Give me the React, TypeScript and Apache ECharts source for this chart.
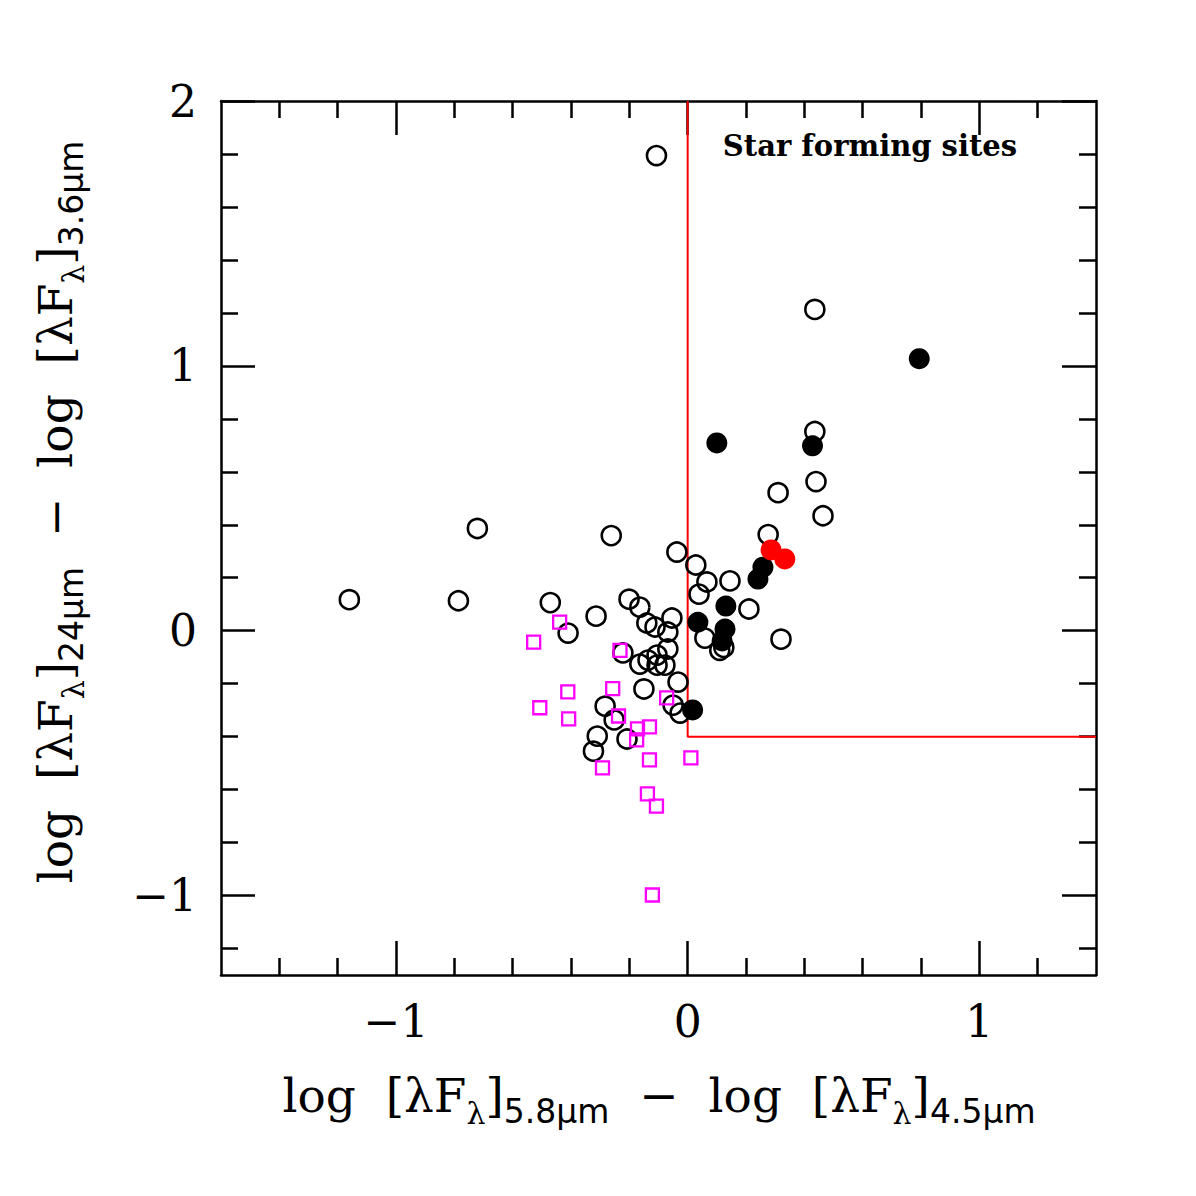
import React, { useEffect, useRef } from 'react';
import * as echarts from 'echarts';

// Tick values
const xMajorTicks = [-1, 0, 1];
const xMinorTicks = [-1.4, -1.2, -0.8, -0.6, -0.4, -0.2, 0.2, 0.4, 0.6, 0.8, 1.2];
const yMajorTicks = [-1, 0, 1, 2];
const yMinorTicks = [-1.2, -0.8, -0.6, -0.4, -0.2, 0.2, 0.4, 0.6, 0.8, 1.2, 1.4, 1.6, 1.8];

// Star-forming region boundary (red)
const boundaryX = [0, 0, 1.4];
const boundaryY = [2, -0.4, -0.4];

// Open black circles
const openCircles: [number, number][] = [
  [-0.107, 1.794], [0.436, 1.213], [0.436, 0.752], [0.44, 0.563], [0.31, 0.521],
  [0.464, 0.434], [0.276, 0.363], [-0.721, 0.386], [-0.262, 0.359], [-1.16, 0.117],
  [-0.786, 0.113], [-0.471, 0.106], [-0.037, 0.297], [0.028, 0.248], [0.066, 0.184],
  [0.145, 0.188], [0.039, 0.138], [0.21, 0.082], [0.059, -0.028], [0.32, -0.032],
  [0.11, -0.074], [0.124, -0.063], [-0.054, 0.048], [-0.068, -0.005], [-0.068, -0.069],
  [-0.201, 0.119], [-0.164, 0.089], [-0.314, 0.055], [-0.41, -0.009], [-0.14, 0.029],
  [-0.112, 0.014], [-0.222, -0.084], [-0.164, -0.126], [-0.136, -0.111], [-0.105, -0.092],
  [-0.105, -0.13], [-0.078, -0.13], [-0.033, -0.194], [-0.15, -0.22], [-0.283, -0.285],
  [-0.05, -0.281], [-0.026, -0.311], [-0.252, -0.337], [-0.31, -0.398], [-0.208, -0.409],
  [-0.323, -0.455],
];

// Filled black circles
const filledCircles: [number, number][] = [
  [0.794, 1.027], [0.1, 0.709], [0.428, 0.698], [0.258, 0.24], [0.241, 0.195],
  [0.131, 0.093], [0.035, 0.032], [0.128, 0.006], [0.118, -0.039], [0.017, -0.299],
];

// Filled red circles
const redCircles: [number, number][] = [
  [0.286, 0.305], [0.333, 0.271],
];

// Magenta open squares
const magentaSquares: [number, number][] = [
  [-0.528, -0.043], [-0.439, 0.032], [-0.232, -0.074], [-0.411, -0.231], [-0.257, -0.219],
  [-0.072, -0.254], [-0.507, -0.291], [-0.408, -0.333], [-0.237, -0.322], [-0.172, -0.371],
  [-0.131, -0.363], [-0.175, -0.412], [0.011, -0.48], [-0.131, -0.488], [-0.292, -0.518],
  [-0.138, -0.616], [-0.107, -0.662], [-0.121, -0.998],
];

const SERIF = '"DejaVu Serif", "Liberation Serif", serif';
const SANS = '"DejaVu Sans", "Liberation Sans", sans-serif';

const fmt = (v: number) => {
  const r = Math.round(v);
  return r < 0 ? '\u2212' + Math.abs(r) : String(r);
};

function makeAxis(pos: string, min: number, max: number, ticks: number[], len: number, labels: boolean, lineShow: boolean) {
  return {
    type: 'value',
    min,
    max,
    position: pos,
    axisLine: { show: lineShow, onZero: false, lineStyle: { color: '#000', width: 2.5 } },
    axisTick: { show: true, inside: true, length: len, customValues: ticks, lineStyle: { color: '#000', width: 2.5 } },
    axisLabel: {
      show: labels,
      customValues: ticks,
      formatter: fmt,
      color: '#000',
      fontSize: 44,
      fontFamily: SERIF,
      margin: 24,
    },
    splitLine: { show: false },
  };
}

const richStyles = {
  m: { fontSize: 47, fontFamily: SERIF, color: '#000', lineHeight: 66, verticalAlign: 'middle' },
  l: { fontSize: 30, fontFamily: SERIF, color: '#000', verticalAlign: 'bottom' },
  s: { fontSize: 33, fontFamily: SANS, color: '#000', verticalAlign: 'bottom' },
};

export default function App() {
  const ref = useRef<HTMLDivElement>(null);
  useEffect(() => {
    if (!ref.current) return;
    const chart = echarts.init(ref.current, null, { renderer: 'svg' });
    const boundary = boundaryX.map((x, i) => [x, boundaryY[i]]);
    chart.setOption({
      animation: false,
      backgroundColor: '#fff',
      grid: { left: 221, top: 101, width: 875, height: 874, containLabel: false },
      xAxis: [
        makeAxis('bottom', -1.6, 1.4, xMajorTicks, 34, true, true),
        makeAxis('bottom', -1.6, 1.4, xMinorTicks, 17, false, false),
        makeAxis('top', -1.6, 1.4, xMajorTicks, 34, false, true),
        makeAxis('top', -1.6, 1.4, xMinorTicks, 17, false, false),
      ],
      yAxis: [
        makeAxis('left', -1.3, 2, yMajorTicks, 34, true, true),
        makeAxis('left', -1.3, 2, yMinorTicks, 17, false, false),
        makeAxis('right', -1.3, 2, yMajorTicks, 34, false, true),
        makeAxis('right', -1.3, 2, yMinorTicks, 17, false, false),
      ],
      series: [
        {
          type: 'line',
          data: boundary,
          symbol: 'none',
          lineStyle: { color: '#ff0000', width: 2 },
          z: 1,
          silent: true,
        },
        {
          type: 'scatter',
          data: openCircles,
          symbol: 'circle',
          symbolSize: 19,
          itemStyle: { color: 'rgba(0,0,0,0)', borderColor: '#000', borderWidth: 2.6, opacity: 1 },
          z: 2,
        },
        {
          type: 'scatter',
          data: magentaSquares,
          symbol: 'rect',
          symbolSize: 13,
          itemStyle: { color: 'rgba(0,0,0,0)', borderColor: '#ff00ff', borderWidth: 2.3, opacity: 1 },
          z: 3,
        },
        {
          type: 'scatter',
          data: filledCircles,
          symbol: 'circle',
          symbolSize: 21,
          itemStyle: { color: '#000', opacity: 1 },
          z: 4,
        },
        {
          type: 'scatter',
          data: redCircles,
          symbol: 'circle',
          symbolSize: 21,
          itemStyle: { color: '#ff0000', opacity: 1 },
          z: 5,
        },
      ],
      graphic: [
        {
          type: 'text',
          x: 870,
          y: 146,
          style: {
            text: 'Star forming sites',
            font: 'bold 29px "DejaVu Serif", serif',
            fill: '#000',
            align: 'center',
            verticalAlign: 'middle',
            textAlign: 'center',
            textVerticalAlign: 'middle',
          },
        },
        {
          type: 'text',
          x: 659,
          y: 1095,
          style: {
            text: '{m|log  [λF}{l|λ}{m|]}{s|5.8μm}{m|  \u2212  log  [λF}{l|λ}{m|]}{s|4.5μm}',
            rich: richStyles,
            align: 'center',
            verticalAlign: 'middle',
            textAlign: 'center',
            textVerticalAlign: 'middle',
          },
        },
        {
          type: 'text',
          x: 55,
          y: 512,
          rotation: Math.PI / 2,
          style: {
            text: '{m|log  [λF}{l|λ}{m|]}{s|24μm}{m|  \u2212  log  [λF}{l|λ}{m|]}{s|3.6μm}',
            rich: richStyles,
            align: 'center',
            verticalAlign: 'middle',
            textAlign: 'center',
            textVerticalAlign: 'middle',
          },
        },
      ],
    });
    return () => chart.dispose();
  }, []);
  return (
    <div
      ref={ref}
      style={{ position: 'absolute', left: 0, top: 0, width: 1196, height: 1196, background: '#fff' }}
    />
  );
}
